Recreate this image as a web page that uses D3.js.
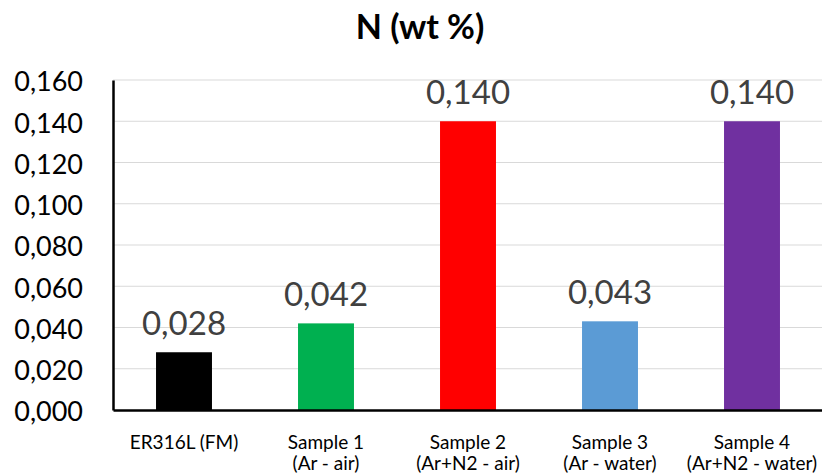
<!DOCTYPE html>
<html>
<head>
<meta charset="utf-8">
<script src="https://cdn.jsdelivr.net/npm/d3@7"></script>
<style>
  body { margin: 0; background: #fff; }
  svg { font-family: Lato, "Open Sans", sans-serif; }
</style>
</head>
<body>
<div id="chart"></div>
<script>
const categories = ["ER316L (FM)", "Sample 1", "Sample 2", "Sample 3", "Sample 4"];
const subLabels = ["", "(Ar - air)", "(Ar+N2 - air)", "(Ar - water)", "(Ar+N2 - water)"];
const values = [0.028, 0.042, 0.140, 0.043, 0.140];
const colors = ["#000000", "#00b050", "#ff0000", "#5b9bd5", "#7030a0"];
const yTicks = [0, 0.02, 0.04, 0.06, 0.08, 0.1, 0.12, 0.14, 0.16];

const W = 822, H = 475;
const margin = { top: 80, right: -1, bottom: 65, left: 113 };

const svg = d3.select("#chart").append("svg")
    .attr("width", W)
    .attr("height", H);

const x = d3.scaleBand()
    .domain(categories)
    .range([margin.left, W - margin.right])
    .paddingInner(0.606)
    .paddingOuter(0.303);

const y = d3.scaleLinear()
    .domain([0, 0.16])
    .range([H - margin.bottom, margin.top]);

const fmt = d => d3.format(".3f")(d).replace(".", ",");

// gridlines
svg.selectAll(".grid")
    .data(yTicks.filter(d => d > 0))
    .enter()
    .append("line")
    .attr("x1", margin.left)
    .attr("x2", W)
    .attr("y1", d => y(d))
    .attr("y2", d => y(d))
    .attr("stroke", "#d9d9d9")
    .attr("stroke-width", 1);

// bars
svg.selectAll(".bar")
    .data(values)
    .enter()
    .append("rect")
    .attr("x", (d, i) => x(categories[i]))
    .attr("y", d => y(d))
    .attr("width", x.bandwidth())
    .attr("height", d => y(0) - y(d))
    .attr("fill", (d, i) => colors[i]);

// value labels
svg.selectAll(".val")
    .data(values)
    .enter()
    .append("text")
    .attr("x", (d, i) => x(categories[i]) + x.bandwidth() / 2)
    .attr("y", d => y(d) - 17)
    .attr("text-anchor", "middle")
    .attr("fill", "#404040")
    .style("font-size", "33px")
    .text(d => fmt(d));

// y axis
svg.append("g")
    .attr("transform", `translate(${margin.left},0)`)
    .call(d3.axisLeft(y).tickValues(yTicks).tickFormat(fmt).tickSize(0).tickPadding(30))
    .call(g => g.select(".domain").attr("stroke", "#000").attr("stroke-width", 2.5))
    .call(g => g.selectAll("text").attr("fill", "#000").attr("dy", "0.4em")
        .style("font-size", "27px").attr("font-family", "Lato, 'Open Sans', sans-serif"));

// x axis
svg.append("g")
    .attr("transform", `translate(0,${y(0)})`)
    .call(d3.axisBottom(x).tickSize(0).tickFormat(""))
    .call(g => g.select(".domain").attr("stroke", "#000").attr("stroke-width", 2.5));

svg.selectAll(".xl1")
    .data(categories)
    .enter()
    .append("text")
    .attr("x", d => x(d) + x.bandwidth() / 2)
    .attr("y", y(0) + 39)
    .attr("text-anchor", "middle")
    .attr("fill", "#000")
    .style("font-size", "19px")
    .text(d => d);

svg.selectAll(".xl2")
    .data(subLabels)
    .enter()
    .append("text")
    .attr("x", (d, i) => x(categories[i]) + x.bandwidth() / 2)
    .attr("y", y(0) + 60)
    .attr("text-anchor", "middle")
    .attr("fill", "#000")
    .style("font-size", "19px")
    .text(d => d);

// title
svg.append("text")
    .attr("x", 420)
    .attr("y", 39)
    .attr("text-anchor", "middle")
    .attr("fill", "#000")
    .style("font-size", "34px")
    .style("font-weight", "bold")
    .text("N (wt %)");
</script>
</body>
</html>
